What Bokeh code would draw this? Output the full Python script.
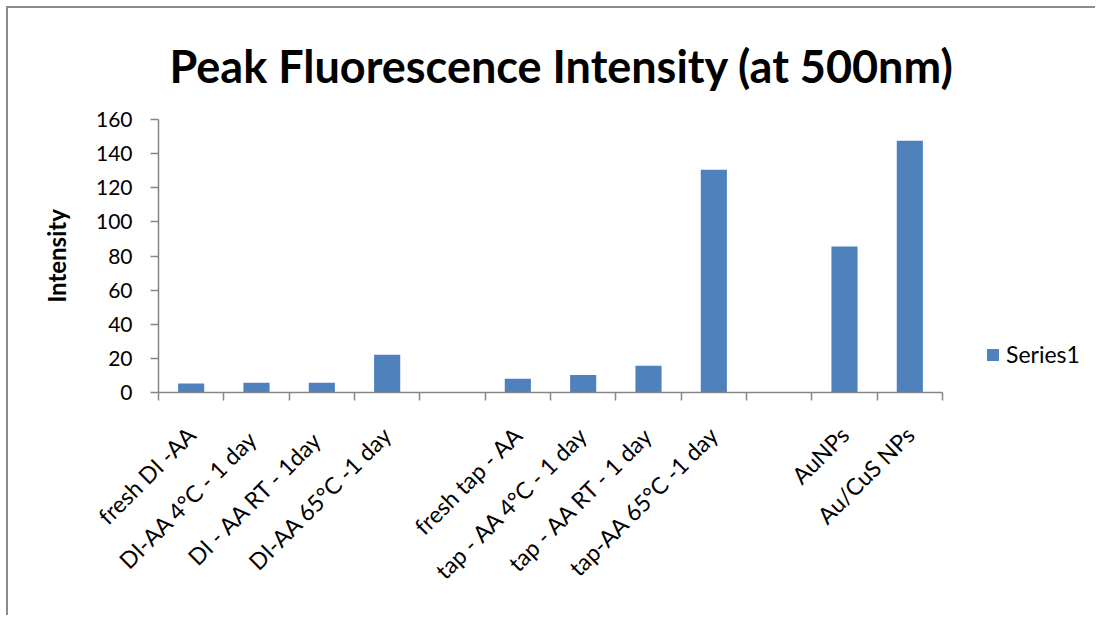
import math
from bokeh.plotting import figure
from bokeh.models import (Range1d, FixedTicker, Legend, LegendItem, ColumnDataSource)
from bokeh.embed import file_html
from bokeh.resources import INLINE

# ---- data ----
categories = ["fresh DI -AA", "DI-AA 4°C  - 1 day", "DI - AA RT -  1day", "DI-AA 65°C -1 day",
              "", "fresh tap - AA", "tap - AA 4°C - 1 day", "tap - AA RT - 1 day",
              "tap-AA 65°C -1 day", "", "AuNPs", "Au/CuS NPs"]
values = [5.3, 5.7, 5.7, 22.1, None, 8.0, 10.2, 15.7, 130.6, None, 85.5, 147.5]
series_name = "Series1"
y_ticks = [0, 20, 40, 60, 80, 100, 120, 140, 160]
title_text = "Peak Fluorescence Intensity (at 500nm)"
y_label = "Intensity"

FONT = "Lato"
AXIS_COLOR = "#868686"
BAR_COLOR = "#4F81BD"

# layout (pixels)
AXIS_W = 784      # width of the category axis
FRAME_W = 932     # frame extends right to hold the legend
n = len(categories)
centers = [i + 0.5 for i in range(n)]
boundaries = [float(i) for i in range(n + 1)]
x_end = n * FRAME_W / AXIS_W

xs = [c for c, v in zip(centers, values) if v is not None]
tops = [v for v in values if v is not None]
src = ColumnDataSource(data=dict(x=xs, top=tops))

p = figure(width=1089, height=609, output_backend="svg", toolbar_location=None,
           x_range=Range1d(0, x_end), y_range=Range1d(0, 160),
           min_border_left=150, min_border_right=1089 - 150 - FRAME_W,
           min_border_top=111, min_border_bottom=225)
p.styles = {"margin-left": "6px", "margin-top": "6px",
            "border-left": "2px solid #8c8c8c", "border-top": "2px solid #8c8c8c"}

p.title.text = title_text
p.title.text_font = FONT
p.title.text_font_style = "bold"
p.title.text_font_size = "45px"
p.title.align = "left"
p.title.offset = 11
p.title.standoff = 54
p.title.text_color = "black"

r = p.vbar(x="x", top="top", width=0.4, source=src, fill_color=BAR_COLOR,
           line_color=None)

p.xgrid.visible = False
p.ygrid.visible = False
p.outline_line_color = None

xa = p.xaxis[0]
xa.bounds = (0, n)
xa.ticker = FixedTicker(ticks=centers, minor_ticks=boundaries)
xa.major_label_overrides = {c: lab for c, lab in zip(centers, categories)}
xa.major_label_orientation = math.pi / 4
xa.major_label_standoff = 30
xa.major_label_text_font = FONT
xa.major_label_text_font_size = "23px"
xa.major_label_text_color = "black"
xa.major_tick_line_color = None
xa.minor_tick_line_color = AXIS_COLOR
xa.minor_tick_line_width = 1.5
xa.minor_tick_in = 0
xa.minor_tick_out = 8
xa.axis_line_color = AXIS_COLOR
xa.axis_line_width = 1.5

ya = p.yaxis[0]
ya.ticker = FixedTicker(ticks=y_ticks)
ya.major_label_text_font = FONT
ya.major_label_text_font_size = "21px"
ya.major_label_text_color = "black"
ya.major_label_standoff = 18
ya.major_tick_line_color = AXIS_COLOR
ya.major_tick_line_width = 1.5
ya.major_tick_in = 0
ya.major_tick_out = 8
ya.minor_tick_line_color = None
ya.axis_line_color = AXIS_COLOR
ya.axis_line_width = 1.5
ya.axis_label = y_label
ya.axis_label_text_font = FONT
ya.axis_label_text_font_style = "bold"
ya.axis_label_text_font_size = "24px"
ya.axis_label_text_color = "black"
ya.axis_label_standoff = 22

legend = Legend(items=[LegendItem(label=series_name, renderers=[r])],
                location=(827, 24), glyph_width=15, glyph_height=15,
                label_standoff=6, padding=0, margin=0, border_line_color=None,
                background_fill_alpha=0, label_text_font=FONT,
                label_text_font_size="23px", label_text_color="black")
p.add_layout(legend)

open("out.html", "w").write(file_html(p, INLINE))
